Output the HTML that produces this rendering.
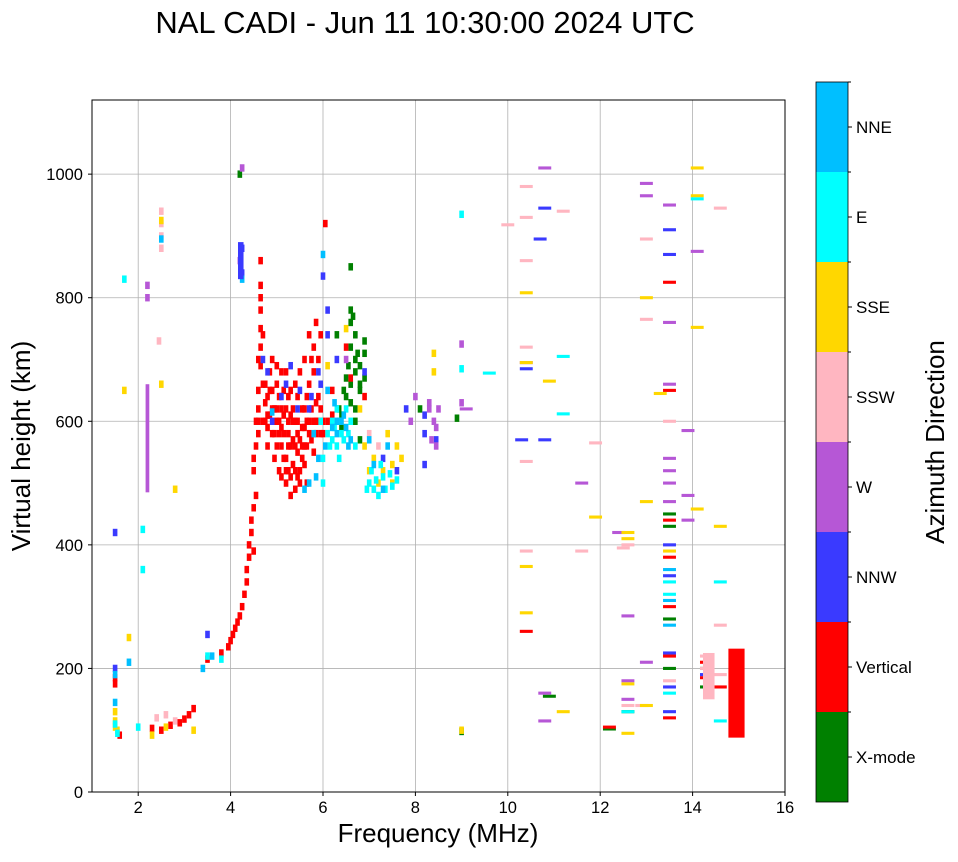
<!DOCTYPE html>
<html><head><meta charset="utf-8"><style>
body{margin:0;background:#fff;font-family:"Liberation Sans",sans-serif;}
svg text{font-family:"Liberation Sans",sans-serif;fill:#000;}
</style></head><body>
<svg id="chart" width="958" height="857" xmlns="http://www.w3.org/2000/svg">
<text x="425" y="33" font-size="31" text-anchor="middle">NAL CADI - Jun 11 10:30:00 2024 UTC</text>
<g id="grid"></g><g id="marks"></g><g id="axes"></g><g id="cbar"></g>
<text x="438" y="842" font-size="26" text-anchor="middle">Frequency (MHz)</text>
<text transform="translate(30,446) rotate(-90)" font-size="26" text-anchor="middle">Virtual height (km)</text>
<text transform="translate(944,442) rotate(-90)" font-size="26" text-anchor="middle">Azimuth Direction</text>
</svg>
<script>
const xTicks=[2,4,6,8,10,12,14,16];
const yTicks=[0,200,400,600,800,1000];
const dirNames=["X-mode","Vertical","NNW","W","SSW","SSE","E","NNE"];
const dirColors=["#008000","#ff0000","#3a3aff","#b657d6","#ffb6c1","#ffd700","#00ffff","#00bfff"];
const xmode=[[4.2,1000],[6.6,780],[6.6,760],[6.7,740],[6.6,720],[6.7,700],[6.8,690],[6.9,670],[6.8,650],[6.6,660],[6.5,640],[6.4,610],[6.7,620],[6.3,740],[6.6,850],[6.9,730],[6.5,670],[8.1,620],[8.9,605],[9.0,98],[10.9,155],[12.2,102],[12.6,130],[13.5,450],[13.5,430],[13.5,280],[13.5,200],[14.3,200],[14.3,170],[6.7,600],[6.8,570],[6.65,770],[6.75,710],[6.55,690],[6.45,650],[6.35,620],[6.6,630],[6.7,680],[6.8,660],[6.9,710],[6.4,590]];
const vertical=[[1.5,175],[1.5,185],[1.6,92],[2.3,103],[2.5,100],[2.7,108],[2.9,112],[3.0,118],[3.1,125],[3.2,135],[3.5,215],[3.8,225],[3.95,235],[4.0,245],[4.05,255],[4.1,265],[4.15,275],[4.2,285],[4.25,300],[4.3,320],[4.35,340],[4.35,360],[4.4,380],[4.4,400],[4.45,420],[4.45,440],[4.5,390],[4.5,460],[4.55,480],[4.5,520],[4.5,540],[4.55,560],[4.55,600],[4.6,620],[4.6,650],[4.6,700],[4.65,720],[4.65,750],[4.65,780],[4.65,820],[4.65,860],[4.75,600],[4.8,640],[4.85,680],[4.9,580],[4.95,620],[5.0,560],[5.0,660],[5.05,520],[5.1,590],[5.15,540],[5.2,500],[5.2,620],[5.25,560],[5.3,480],[5.3,650],[5.35,530],[5.4,600],[5.45,510],[5.5,570],[5.5,680],[5.55,540],[5.6,620],[5.65,500],[5.7,580],[5.7,660],[5.75,700],[5.8,550],[5.85,630],[5.9,600],[5.95,740],[6.0,580],[6.05,920],[5.85,760],[5.8,720],[4.8,560],[4.9,700],[5.1,680],[4.95,540],[5.25,600],[5.45,640],[5.6,560],[4.85,610],[5.15,610],[5.35,570],[5.55,590],[5.65,640],[5.05,600],[5.4,520],[4.7,660],[6.2,650],[6.6,670],[6.5,720],[6.9,640],[10.4,260],[13.5,825],[13.5,650],[13.5,440],[13.5,380],[13.5,300],[13.5,220],[13.5,120],[12.2,105],[14.3,210],[14.3,185],[14.6,170],
[4.7,600],[4.75,630],[4.8,590],[4.85,650],[4.9,620],[4.95,580],[5.0,600],[5.05,640],[5.1,560],[5.15,580],[5.2,540],[5.25,520],[5.3,560],[5.35,600],[5.4,560],[5.45,580],[5.5,520],[5.55,620],[5.6,590],[5.65,560],[5.7,600],[5.75,620],[5.8,600],[5.85,580],[5.9,640],[5.95,580],[6.0,600],[5.3,510],[5.4,490],[5.2,520],[5.1,510],[5.5,500],[5.6,530],[4.6,580],[4.6,600],[4.65,690],[4.7,740],[4.65,800],[5.0,690],[5.2,680],[5.4,660],[5.6,700],[5.8,680],[5.7,740],[5.9,700],[6.1,600],[6.2,610],[4.75,660],[5.25,640],[5.35,620],[4.9,650],[5.05,580],[5.45,600],[5.55,560],[5.75,570],[5.95,620],[4.8,610],[5.0,620],[5.15,650],[5.65,600],[5.85,600],[5.25,580],[5.45,550],[5.3,610],[5.1,620]];
const nnw=[[1.5,200],[1.5,420],[3.5,255],[4.7,700],[5.3,690],[5.7,620],[5.9,680],[6.0,835],[6.1,780],[6.3,700],[6.9,680],[7.3,540],[7.6,520],[7.8,620],[8.2,610],[8.2,530],[8.45,570],[8.2,580],[10.4,685],[10.8,945],[10.7,895],[10.8,570],[10.3,570],[13.5,910],[13.5,870],[13.5,350],[13.5,400],[13.5,130],[13.5,170],[13.5,225],[14.3,190],[4.25,840],[4.25,880],[5.5,650],[5.1,640],[4.9,600],[5.2,660],[5.45,620],[5.75,640],[4.8,680],[5.95,660],[6.1,740]];
const west=[[2.2,820],[2.2,800],[8.3,630],[8.4,600],[8.45,560],[8.5,620],[9.0,725],[9.0,630],[9.1,620],[10.4,695],[10.8,1010],[11.6,500],[12.4,420],[12.6,285],[12.6,180],[12.6,150],[13.0,985],[13.0,965],[13.0,210],[13.5,950],[13.5,760],[13.5,660],[13.5,540],[13.5,520],[13.5,500],[13.5,470],[13.9,480],[13.9,585],[13.9,440],[14.1,875],[10.8,160],[10.8,115],[4.25,1010],[4.2,860],[6.5,700],[7.9,600],[8.0,640],[8.3,620],[8.45,590],[8.35,570]];
const ssw=[[2.5,940],[2.5,920],[2.5,900],[2.5,880],[2.45,730],[2.4,120],[2.6,125],[2.8,115],[7.0,580],[7.2,560],[10.4,980],[10.4,930],[10.4,860],[10.4,720],[10.4,535],[10.4,390],[11.2,940],[11.6,390],[11.9,565],[12.6,400],[12.6,140],[13.0,895],[13.0,765],[12.9,140],[13.5,600],[13.5,180],[14.3,220],[14.3,200],[14.6,190],[14.6,270],[14.6,945],[10.0,918],[12.5,395]];
const sse=[[1.5,130],[1.5,115],[1.55,100],[1.7,650],[1.8,250],[2.3,92],[2.5,925],[2.5,660],[2.6,105],[2.8,490],[3.2,100],[6.1,690],[6.5,750],[6.8,620],[7.0,520],[7.2,500],[7.4,580],[7.5,530],[7.7,540],[8.4,710],[8.4,680],[9.0,100],[10.4,808],[10.4,695],[10.4,365],[10.4,290],[10.9,665],[11.2,130],[11.9,445],[12.6,420],[12.6,175],[12.6,95],[13.0,800],[13.0,470],[13.0,140],[13.3,645],[13.5,390],[14.1,1010],[14.1,965],[14.1,752],[14.1,458],[14.6,430],[12.6,410],[7.1,540],[7.3,520],[7.6,560],[6.9,560],[7.5,500],[1.5,105]];
const east=[[1.5,110],[1.55,95],[1.7,830],[2.0,105],[2.1,425],[2.1,360],[3.5,220],[3.8,215],[6.2,600],[6.3,560],[6.4,580],[6.5,620],[6.6,600],[6.7,560],[6.3,620],[6.2,570],[7.0,500],[7.1,490],[7.3,510],[7.2,480],[6.0,540],[6.0,500],[5.95,600],[9.0,935],[9.0,685],[9.6,678],[11.2,705],[11.2,612],[14.1,960],[14.6,340],[14.6,115],[12.6,130],[13.5,320],[13.5,340],[13.5,160],[7.5,495],[7.6,505],[6.25,590],[6.35,600],[6.45,570],[6.55,580],[6.15,560],[6.35,540],[6.1,580],[7.05,520],[7.15,505],[7.35,490],[7.45,515],[6.95,490],[7.25,530]];
const nne=[[1.5,145],[1.5,190],[1.8,210],[2.5,895],[3.4,200],[3.6,220],[4.25,830],[4.9,615],[5.6,490],[5.8,580],[6.0,870],[6.3,580],[6.4,600],[6.1,650],[6.5,590],[6.6,570],[7.1,530],[7.4,560],[5.9,540],[6.25,630],[5.7,500],[7.0,570],[7.3,490],[13.5,270],[13.5,310],[13.5,360],[6.2,590],[6.45,610],[6.05,560],[6.3,600],[5.85,510],[6.55,560]];
const series=[xmode,vertical,nnw,west,ssw,sse,east,nne];
// vertical blocks: [freq, hLow, hHigh, widthMHz, dir]
const blocks=[[2.2,485,660,0.08,3],[14.95,88,232,0.35,1],[4.22,830,890,0.12,2],[14.35,150,225,0.25,4]];

const NS="http://www.w3.org/2000/svg";
const L=92,R=785,T=100,B=792;
const xs=f=>L+(f-1)/(16-1)*(R-L);
const ys=h=>B-h/1120*(B-T);
function mk(tag,attrs,parent){const e=document.createElementNS(NS,tag);for(const k in attrs)e.setAttribute(k,attrs[k]);parent.appendChild(e);return e;}
const grid=document.getElementById('grid'),axes=document.getElementById('axes'),marks=document.getElementById('marks'),cb=document.getElementById('cbar');
mk('rect',{x:L,y:T,width:R-L,height:B-T,fill:'#fff'},grid);
xTicks.forEach(t=>{const x=xs(t);
 const g=mk('line',{x1:x,x2:x,y1:T,y2:B,stroke:'#b0b0b0','stroke-width':0.8},grid);
 
 
 mk('line',{x1:x,x2:x,y1:B,y2:B+4,stroke:'#000'},axes);
 const tx=mk('text',{x:x,y:B+21,'font-size':16.5,'text-anchor':'middle'},axes);tx.textContent=t;
 
 });
yTicks.forEach(t=>{const y=ys(t);
 const g=mk('line',{x1:L,x2:R,y1:y,y2:y,stroke:'#b0b0b0','stroke-width':0.8},grid);
 
 
 mk('line',{x1:L-4,x2:L,y1:y,y2:y,stroke:'#000'},axes);
 const tx=mk('text',{x:L-9,y:y+6,'font-size':16.5,'text-anchor':'end'},axes);tx.textContent=t;
 
 });
const fr=mk('rect',{x:L,y:T,width:R-L,height:B-T,fill:'none',stroke:'#000','stroke-width':1},axes);


series.forEach((arr,d)=>{arr.forEach(p=>{
 const w=p[0]>9?0.28:0.1, hh=p[0]>9?5:12;
 const r=mk('rect',{x:xs(p[0]-w/2),y:ys(p[1]+hh/2),width:xs(w)-xs(0),height:ys(0)-ys(hh),fill:dirColors[d]},marks);
 
 });});
blocks.forEach(b=>{
 const r=mk('rect',{x:xs(b[0]-b[3]/2),y:ys(b[2]),width:xs(b[3])-xs(0),height:ys(b[1])-ys(b[2]),fill:dirColors[b[4]]},marks);
 
 });
const cx=816,cw=32,cT=82,cB=802,seg=(cB-cT)/dirNames.length;
dirNames.forEach((n,i)=>{const y=cB-(i+1)*seg;
 const r=mk('rect',{x:cx,y:y,width:cw,height:seg,fill:dirColors[i]},cb);
 
 
 mk('line',{x1:cx+cw,x2:cx+cw+4,y1:y+seg/2,y2:y+seg/2,stroke:'#000'},cb);
 mk('line',{x1:cx+cw,x2:cx+cw+3,y1:y,y2:y,stroke:'#000'},cb);
 const t=mk('text',{x:cx+cw+8,y:y+seg/2+6,'font-size':17},cb);t.textContent=n;
 
 });
mk('rect',{x:cx,y:cT,width:cw,height:cB-cT,fill:'none',stroke:'#000','stroke-width':0.8},cb);
</script>
</body></html>
